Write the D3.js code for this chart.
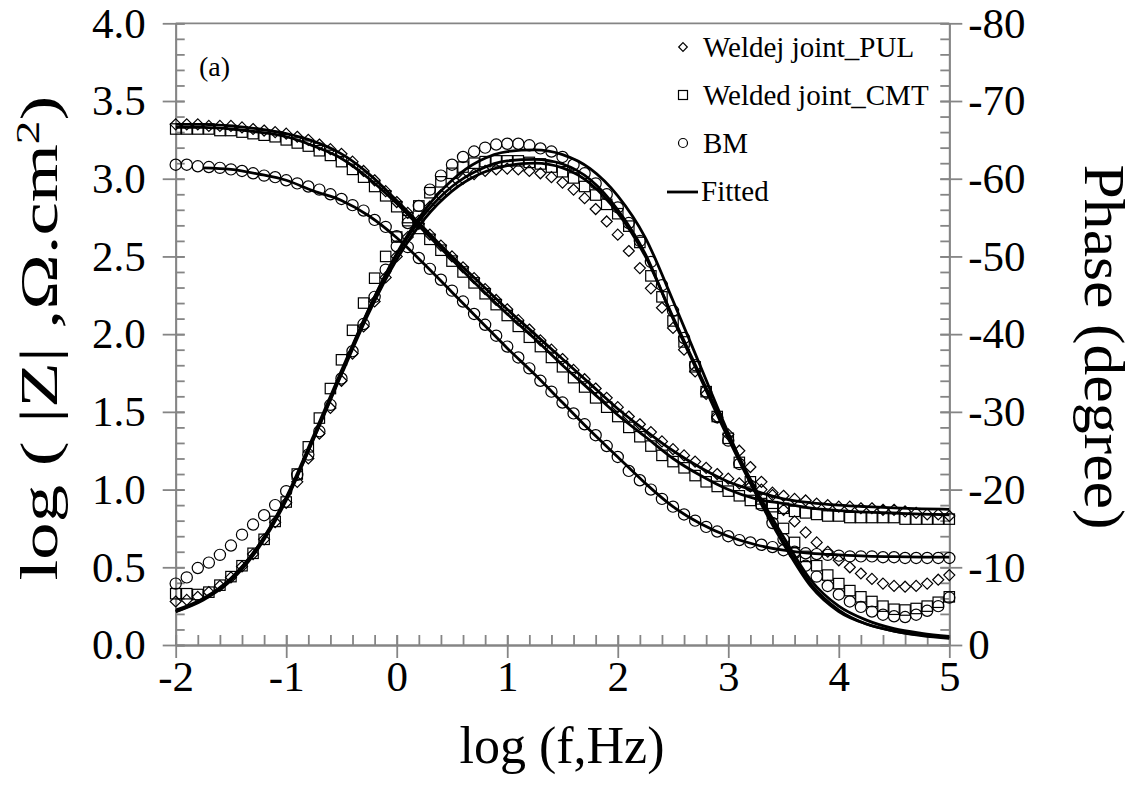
<!DOCTYPE html>
<html>
<head>
<meta charset="utf-8">
<script src="https://cdn.jsdelivr.net/npm/d3@7"></script>
<style>
  body { margin: 0; background: #fff; }
  svg text { font-family: "Liberation Serif", "Times New Roman", serif !important; fill: #000; }
</style>
</head>
<body>
<svg id="chart" width="1142" height="792"></svg>
<script>
// log(f) of the measured points, 10 per decade
const logF = [-2.0,-1.9,-1.8,-1.7,-1.6,-1.5,-1.4,-1.3,-1.2,-1.1,-1.0,-0.9,-0.8,-0.7,-0.6,-0.5,-0.4,-0.3,-0.2,-0.1,
  0.0,0.1,0.2,0.3,0.4,0.5,0.6,0.7,0.8,0.9,1.0,1.1,1.2,1.3,1.4,1.5,1.6,1.7,1.8,1.9,
  2.0,2.1,2.2,2.3,2.4,2.5,2.6,2.7,2.8,2.9,3.0,3.1,3.2,3.3,3.4,3.5,3.6,3.7,3.8,3.9,
  4.0,4.1,4.2,4.3,4.4,4.5,4.6,4.7,4.8,4.9,5.0];

// log|Z| measured
const magPUL = [3.35,3.35,3.35,3.34,3.34,3.34,3.33,3.32,3.31,3.30,3.29,3.27,3.25,3.22,3.19,3.16,3.11,3.05,2.99,2.92,
  2.85,2.78,2.71,2.64,2.57,2.50,2.43,2.36,2.29,2.22,2.16,2.09,2.03,1.96,1.90,1.84,1.77,1.71,1.65,1.59,
  1.53,1.47,1.42,1.37,1.31,1.26,1.22,1.18,1.14,1.10,1.07,1.04,1.02,1.00,0.98,0.96,0.94,0.93,0.91,0.90,
  0.89,0.89,0.88,0.88,0.87,0.87,0.86,0.85,0.84,0.84,0.83];
const magCMT = [3.32,3.32,3.32,3.32,3.31,3.31,3.30,3.29,3.28,3.27,3.25,3.23,3.21,3.18,3.15,3.11,3.06,3.01,2.95,2.89,
  2.82,2.75,2.68,2.61,2.54,2.47,2.40,2.33,2.26,2.19,2.12,2.05,1.98,1.92,1.85,1.79,1.72,1.66,1.59,1.53,
  1.47,1.40,1.34,1.28,1.22,1.18,1.14,1.09,1.05,1.02,0.99,0.96,0.93,0.91,0.89,0.88,0.86,0.85,0.84,0.83,
  0.83,0.82,0.82,0.82,0.82,0.82,0.81,0.81,0.81,0.81,0.81];
const magBM = [3.09,3.09,3.08,3.075,3.07,3.06,3.05,3.035,3.02,3.01,2.99,2.97,2.95,2.93,2.90,2.87,2.83,2.795,2.735,2.69,
  2.63,2.56,2.49,2.42,2.35,2.28,2.21,2.13,2.06,1.99,1.92,1.85,1.78,1.70,1.63,1.56,1.49,1.42,1.35,1.28,
  1.21,1.12,1.06,1.00,0.94,0.89,0.84,0.80,0.76,0.73,0.70,0.675,0.66,0.645,0.63,0.61,0.60,0.59,0.585,0.58,
  0.575,0.57,0.57,0.57,0.565,0.565,0.56,0.56,0.56,0.56,0.56];

// phase (degree) measured
const phPUL = [-5.6,-5.8,-6.2,-6.8,-7.6,-8.7,-10.1,-11.7,-13.6,-15.8,-18.3,-21.0,-24.0,-27.2,-30.5,-34.0,-37.5,-41.0,-44.2,-47.3,
  -50.0,-52.5,-54.6,-56.4,-57.9,-59.1,-60.0,-60.6,-61.0,-61.2,-61.3,-61.2,-61.0,-60.7,-60.2,-59.5,-58.6,-57.5,-56.1,-54.5,
  -52.8,-50.7,-48.5,-45.9,-43.4,-40.8,-38.0,-35.2,-32.3,-29.3,-27.1,-25.0,-22.9,-21.0,-19.3,-17.4,-15.9,-14.5,-13.2,-12.0,
  -10.9,-10.0,-9.2,-8.5,-7.9,-7.6,-7.5,-7.6,-7.9,-8.4,-9.0];
const phCMT = [-6.6,-6.6,-6.5,-6.8,-7.7,-8.8,-10.2,-11.8,-13.6,-15.9,-18.4,-22.0,-25.5,-29.2,-33.0,-36.7,-40.5,-44.0,-47.2,-50.0,
  -52.5,-54.6,-56.5,-58.2,-59.6,-60.7,-61.5,-62.0,-62.2,-62.3,-62.3,-62.3,-62.1,-61.9,-61.5,-60.9,-60.1,-59.0,-57.9,-56.7,
  -55.5,-53.9,-51.8,-47.5,-44.8,-41.7,-39.0,-35.8,-32.6,-29.4,-26.6,-23.5,-21.0,-18.8,-16.9,-15.0,-13.2,-11.4,-10.2,-9.0,
  -7.9,-7.0,-6.2,-5.6,-5.0,-4.6,-4.5,-4.7,-5.0,-5.5,-6.2];
const phBM = [-7.9,-8.7,-9.9,-10.6,-11.6,-12.8,-14.2,-15.5,-16.7,-18.0,-19.8,-21.9,-24.5,-27.5,-30.9,-34.3,-37.8,-41.3,-44.8,-48.3,
  -51.3,-54.3,-56.5,-58.6,-60.4,-61.8,-62.8,-63.5,-64.0,-64.4,-64.5,-64.5,-64.3,-63.9,-63.5,-62.8,-61.8,-60.7,-59.4,-58.0,
  -56.3,-54.3,-52.0,-49.3,-46.3,-43.0,-39.5,-36.0,-32.6,-29.3,-26.3,-23.3,-20.5,-18.0,-15.7,-13.6,-11.8,-10.2,-8.8,-7.6,
  -6.5,-5.6,-4.9,-4.3,-3.9,-3.7,-3.6,-3.9,-4.4,-5.0,-6.1];

// fitted curves, read every quarter decade
const fitF = [-2.0,-1.75,-1.5,-1.25,-1.0,-0.75,-0.5,-0.25,0.0,0.25,0.5,0.75,1.0,1.25,1.5,1.75,2.0,2.25,2.5,2.75,3.0,3.25,3.5,3.75,4.0,4.25,4.5,4.75,5.0];
const fitMagPUL = [3.35,3.35,3.34,3.32,3.29,3.24,3.16,3.03,2.86,2.68,2.50,2.33,2.16,2.00,1.84,1.68,1.52,1.38,1.25,1.14,1.05,0.99,0.94,0.915,0.90,0.89,0.882,0.876,0.873];
const fitMagCMT = [3.33,3.33,3.32,3.30,3.27,3.21,3.13,3.00,2.84,2.66,2.48,2.30,2.13,1.97,1.80,1.64,1.48,1.34,1.20,1.09,1.00,0.94,0.91,0.88,0.865,0.855,0.848,0.842,0.838];
const fitMagBM = [null,3.07,3.06,3.03,2.99,2.92,2.86,2.76,2.62,2.45,2.27,2.09,1.91,1.74,1.56,1.38,1.21,1.04,0.89,0.78,0.70,0.645,0.61,0.59,0.58,0.572,0.568,0.566,0.565];
const fitPhPUL = [-4.5,-6.0,-8.6,-12.8,-18.8,-26.6,-34.8,-42.8,-49.6,-54.8,-58.4,-60.6,-61.7,-62.0,-61.4,-59.4,-55.6,-50.0,-42.2,-34.6,-27.0,-20.0,-13.9,-8.3,-5.0,-3.2,-2.1,-1.5,-1.1];
const fitPhCMT = [-4.3,-5.9,-8.5,-12.8,-19.0,-27.0,-35.3,-43.3,-50.2,-55.4,-59.0,-61.2,-62.3,-62.5,-61.9,-59.9,-56.0,-50.3,-42.0,-34.3,-26.6,-19.5,-13.3,-7.8,-4.5,-2.7,-1.8,-1.2,-0.85];
const fitPhBM = [-4.3,-5.8,-8.3,-12.5,-18.6,-26.6,-35.0,-43.3,-50.4,-55.9,-59.8,-62.3,-63.5,-63.7,-63.1,-61.3,-57.8,-52.4,-44.3,-35.8,-27.3,-19.5,-13.0,-7.5,-4.3,-2.7,-1.8,-1.3,-1.0];

const magTicks = [0, 0.5, 1, 1.5, 2, 2.5, 3, 3.5, 4];
const phaseTicks = [0, -10, -20, -30, -40, -50, -60, -70, -80];
const fTicks = [-2, -1, 0, 1, 2, 3, 4, 5];
const legendNames = ["Weldej joint_PUL", "Welded joint_CMT", "BM", "Fitted"];

const serif = "'Liberation Serif', 'Times New Roman', serif";
const svg = d3.select("#chart");
const pLeft = 175.7, pRight = 949.3, pTop = 23.3, pBottom = 645;
const axisColor = "#858585";

const x = d3.scaleLinear().domain([-2, 5]).range([pLeft, pRight]);
const yMag = d3.scaleLinear().domain([0, 4]).range([pBottom, pTop]);
const yPh = d3.scaleLinear().domain([0, -80]).range([pBottom, pTop]);

function styleAxis(g) {
  g.attr("font-family", null).attr("font-size", null);
  g.selectAll("path, line").attr("stroke", axisColor).attr("stroke-width", 1.8);
  g.selectAll("text").style("font-size", "43px").style("font-family", serif).attr("fill", "#000");
}

// minor ticks (inward)
const minorMag = d3.range(0, 4.001, 0.1);
const minorPh = d3.range(0, -80.001, -2);
const minorF = d3.range(-2, 5.001, 0.2);

svg.append("g").attr("transform", `translate(${pLeft},0)`)
  .call(d3.axisLeft(yMag).tickValues(minorMag).tickSize(-9).tickSizeOuter(0).tickFormat(""))
  .call(styleAxis);
svg.append("g").attr("transform", `translate(${pRight},0)`)
  .call(d3.axisRight(yPh).tickValues(minorPh).tickSize(-9).tickSizeOuter(0).tickFormat(""))
  .call(styleAxis);
svg.append("g").attr("transform", `translate(0,${pBottom})`)
  .call(d3.axisBottom(x).tickValues(minorF).tickSize(-10).tickSizeOuter(0).tickFormat(""))
  .call(styleAxis);

// major ticks (crossing the frame)
svg.append("g").attr("transform", `translate(${pLeft},0)`)
  .call(d3.axisLeft(yMag).tickValues(magTicks).tickSize(13).tickSizeOuter(0).tickPadding(17).tickFormat(d3.format(".1f")))
  .call(styleAxis)
  .call(g => g.selectAll(".tick line").attr("x2", -13).attr("x1", 9));
svg.append("g").attr("transform", `translate(${pRight},0)`)
  .call(d3.axisRight(yPh).tickValues(phaseTicks).tickSize(13).tickSizeOuter(0).tickPadding(6).tickFormat(d => d))
  .call(styleAxis)
  .call(g => g.selectAll(".tick line").attr("x1", -9));
svg.append("g").attr("transform", `translate(0,${pBottom})`)
  .call(d3.axisBottom(x).tickValues(fTicks).tickSize(13).tickSizeOuter(0).tickPadding(2).tickFormat(d => d))
  .call(styleAxis)
  .call(g => g.selectAll(".tick line").attr("y1", -10));

// top frame
svg.append("line").attr("x1", pLeft).attr("x2", pRight).attr("y1", pTop).attr("y2", pTop)
  .attr("stroke", axisColor).attr("stroke-width", 1.8);

// axis titles
svg.append("text").attr("x", 562).attr("y", 763).attr("text-anchor", "middle")
  .style("font-family", serif).style("font-size", "52px").text("log (f,Hz)");

const yt = svg.append("text").attr("transform", "translate(57,338) rotate(-90)")
  .attr("text-anchor", "middle").style("font-family", serif).style("font-size", "52px")
  .attr("textLength", 485).attr("lengthAdjust", "spacingAndGlyphs");
yt.append("tspan").text("log ( |Z| ,Ω.cm");
yt.append("tspan").attr("baseline-shift", "super").style("font-size", "33px").text("2");
yt.append("tspan").text(")");

svg.append("text").attr("transform", "translate(1085,347) rotate(90)")
  .attr("text-anchor", "middle").style("font-family", serif).style("font-size", "56px")
  .attr("textLength", 365).attr("lengthAdjust", "spacingAndGlyphs").text("Phase (degree)");

svg.append("text").attr("x", 199).attr("y", 76).style("font-family", serif).style("font-size", "28px").text("(a)");

// fitted lines
const fitLine = yScale => d3.line()
  .defined(d => d[1] !== null)
  .x(d => x(d[0])).y(d => yScale(d[1]))
  .curve(d3.curveMonotoneX);

const fits = [
  [fitMagPUL, yMag], [fitMagCMT, yMag], [fitMagBM, yMag],
  [fitPhPUL, yPh], [fitPhCMT, yPh], [fitPhBM, yPh]
];
fits.forEach(([vals, ys]) => {
  svg.append("path")
    .datum(fitF.map((f, i) => [f, vals[i]]))
    .attr("fill", "none").attr("stroke", "#000").attr("stroke-width", 2.8)
    .attr("d", fitLine(ys));
});

// markers
function drawMarker(g, type, cx, cy, s) {
  if (type === "diamond") {
    g.append("path").attr("d", `M${cx},${cy - s} L${cx + s},${cy} L${cx},${cy + s} L${cx - s},${cy} Z`);
  } else if (type === "square") {
    g.append("rect").attr("x", cx - s).attr("y", cy - s).attr("width", 2 * s).attr("height", 2 * s);
  } else {
    g.append("circle").attr("cx", cx).attr("cy", cy).attr("r", s);
  }
}

const series = [
  { type: "diamond", mag: magPUL, ph: phPUL, s: 5.5 },
  { type: "square", mag: magCMT, ph: phCMT, s: 5.2 },
  { type: "circle", mag: magBM, ph: phBM, s: 5.6 }
];

const marks = svg.append("g").attr("fill", "none").attr("stroke", "#000").attr("stroke-width", 1.2);
series.forEach(sr => {
  logF.forEach((f, i) => {
    drawMarker(marks, sr.type, x(f), yMag(sr.mag[i]), sr.s);
    drawMarker(marks, sr.type, x(f), yPh(sr.ph[i]), sr.s);
  });
});

// legend
const lg = svg.append("g");
const lgRows = [57, 105, 153, 201];
const lgMarks = lg.append("g").attr("fill", "none").attr("stroke", "#000").attr("stroke-width", 1.2);
drawMarker(lgMarks, "diamond", 683, lgRows[0] - 10, 4.3);
drawMarker(lgMarks, "square", 683, lgRows[1] - 10, 4.5);
drawMarker(lgMarks, "circle", 683, lgRows[2] - 10, 4.5);
lg.append("line").attr("x1", 667).attr("x2", 698).attr("y1", lgRows[3] - 9).attr("y2", lgRows[3] - 9)
  .attr("stroke", "#000").attr("stroke-width", 2.8);
legendNames.forEach((name, i) => {
  lg.append("text").attr("x", i === 3 ? 701 : 703).attr("y", lgRows[i])
    .style("font-family", serif).style("font-size", "29px").text(name);
});
</script>
</body>
</html>
